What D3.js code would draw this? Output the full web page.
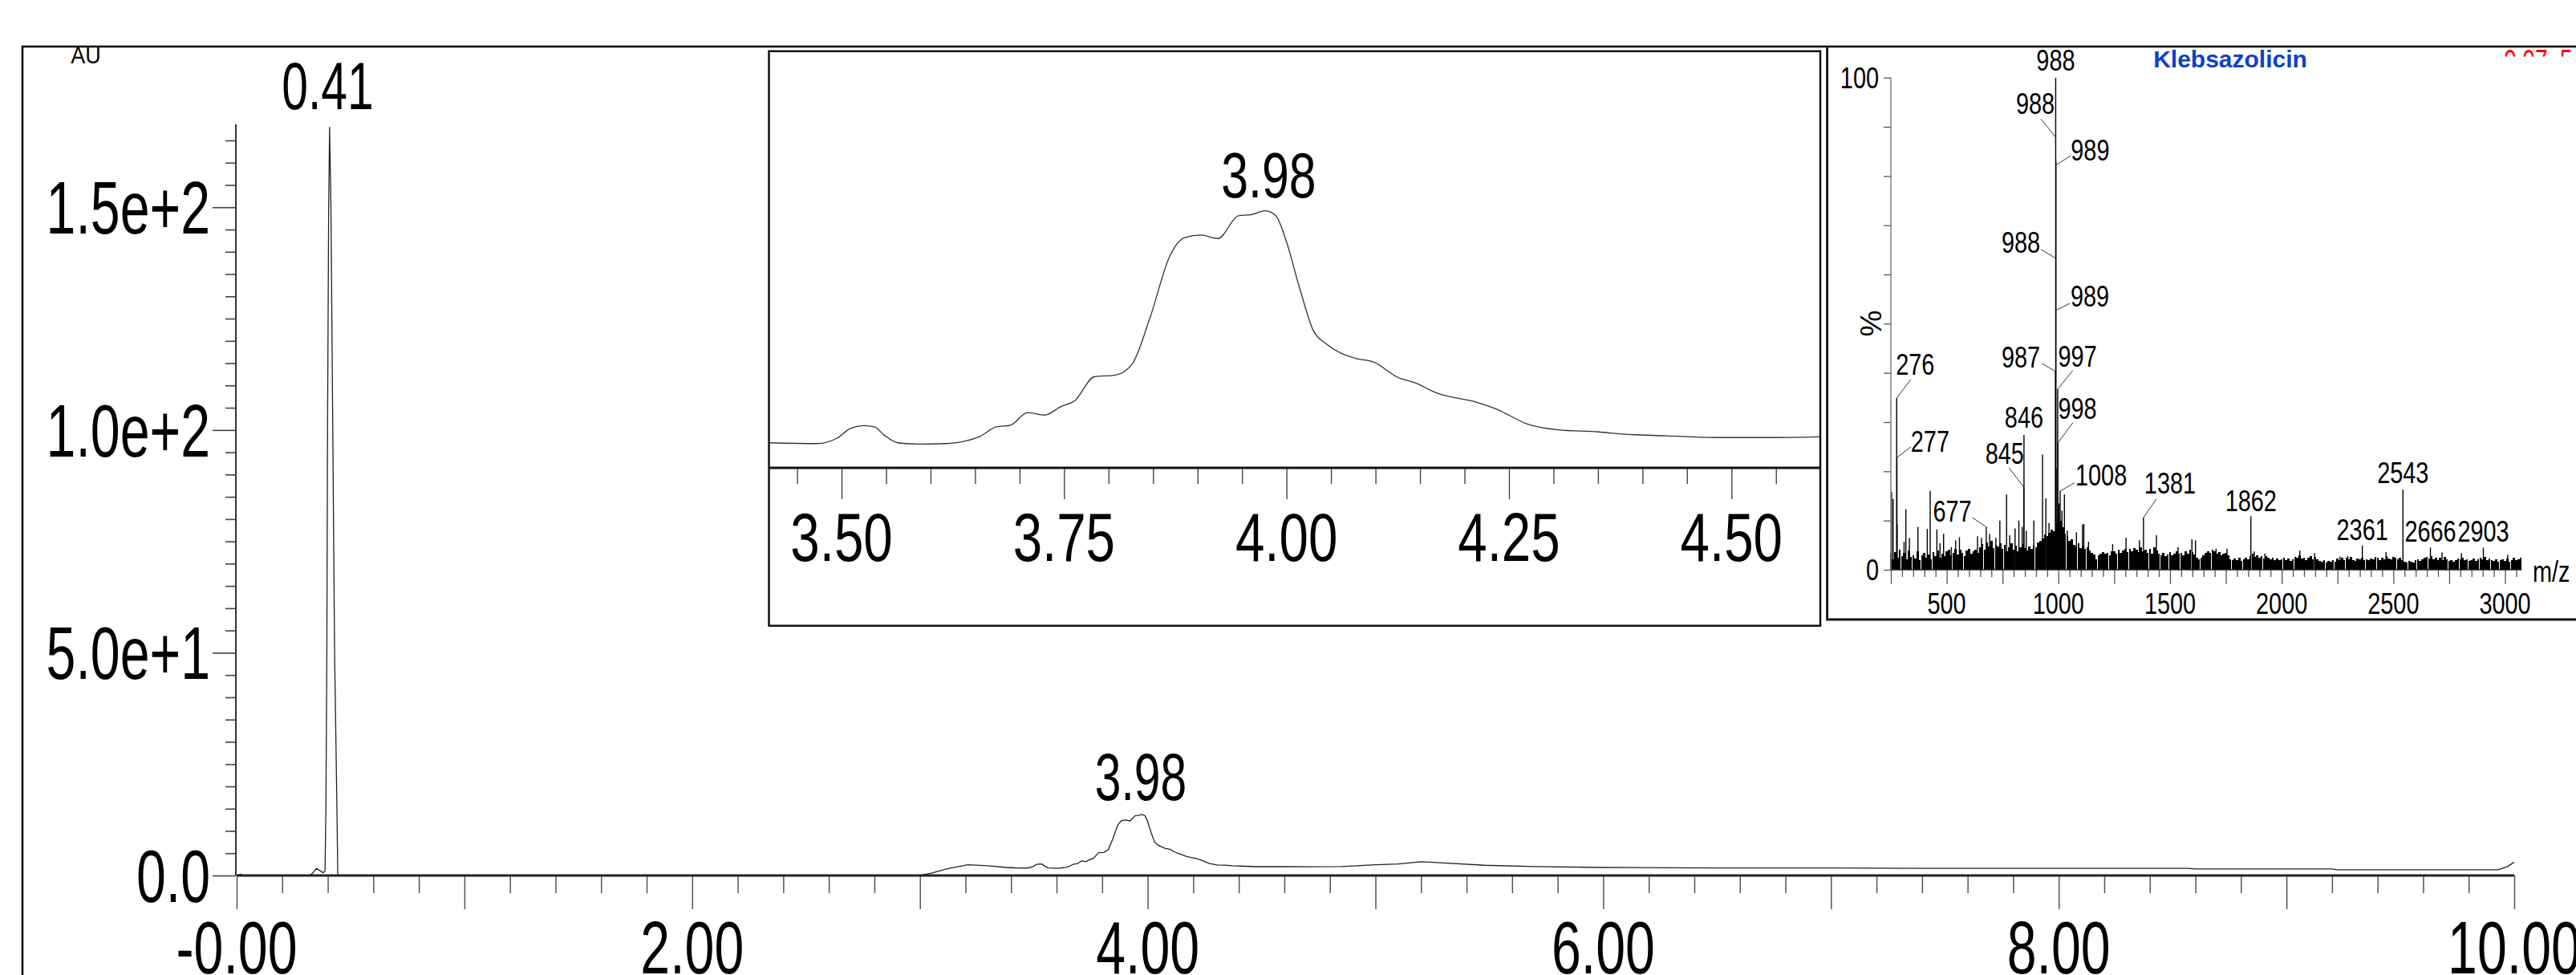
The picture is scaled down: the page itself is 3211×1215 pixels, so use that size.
<!DOCTYPE html>
<html><head><meta charset="utf-8">
<script src="https://cdn.jsdelivr.net/npm/d3@7"></script>
<style>body{margin:0;background:#fff}svg{display:block}text{font-family:"Liberation Sans",Arial,sans-serif}</style>
</head><body><svg id="c" width="3211" height="1215"></svg>
<script>
// ---------------- DATA ----------------
// Main UV chromatogram (time in min, absorbance in AU)
const rtTimes = [0, 0.015, 0.03, 0.32, 0.335, 0.35, 0.365, 0.38, 0.388, 0.392, 0.396, 0.399, 0.404, 0.408, 0.414, 0.422, 0.43, 0.44, 0.444, 3.0, 3.05, 3.12, 3.21, 3.3, 3.38,
  3.419, 3.472, 3.495, 3.51, 3.525, 3.537, 3.548, 3.564, 3.587, 3.617, 3.64, 3.655, 3.674, 3.69, 3.709, 3.728, 3.747, 3.762, 3.784, 3.808, 3.827, 3.847, 3.869, 3.885, 3.904, 3.923, 3.946, 3.96, 3.976, 3.988, 3.999, 4.015, 4.03, 4.045, 4.076, 4.098, 4.125, 4.144, 4.171, 4.213, 4.236, 4.271, 4.305, 4.351, 4.374, 4.427, 4.481, 4.542, 4.599,
  4.7, 4.85, 5.0, 5.1, 5.2, 5.3, 5.48, 5.7, 6.0, 6.5, 7.0, 7.4, 8.57, 8.6, 9.2, 9.22, 9.93, 9.97, 10.0];
const rtAbs = [0, 0.3, 0, 0, 0.6, 1.6, 1.1, 0.6, 1.0, 16, 50, 100, 150, 168, 150, 100, 50, 16, 0, 0, 0.5, 1.5, 2.4, 2.2, 1.8,
  1.71, 1.67, 1.95, 2.45, 2.60, 2.53, 2.10, 1.70, 1.64, 1.67, 1.81, 2.03, 2.53, 2.62, 3.27, 3.14, 3.59, 3.88, 5.12, 5.21, 5.81, 8.23, 11.37, 12.30, 12.44, 12.26, 13.44, 13.49, 13.70, 13.44, 12.23, 9.66, 7.52, 6.81, 6.09, 5.88, 5.09, 4.81, 4.24, 3.81, 3.45, 2.67, 2.38, 2.27, 2.17, 2.07, 1.98, 1.98, 2.02,
  1.95, 2.0, 2.4, 2.6, 3.1, 2.8, 2.3, 2.0, 1.8, 1.7, 1.7, 1.6, 1.6, 1.45, 1.45, 1.3, 1.3, 2.0, 3.0];

const yTickValues = [0, 50, 100, 150];
const yTickLabels = ["0.0", "5.0e+1", "1.0e+2", "1.5e+2"];
const xTickValues = [0, 2, 4, 6, 8, 10];
const xTickLabels = ["-0.00", "2.00", "4.00", "6.00", "8.00", "10.00"];
const peakTimes = [0.41, 3.98];
const peakValues = [168, 13.7];
const peakLabels = ["0.41", "3.98"];

// Inset (zoom of 3.42 - 4.59 min)
const insetTickValues = [3.5, 3.75, 4.0, 4.25, 4.5];
const insetTickLabels = ["3.50", "3.75", "4.00", "4.25", "4.50"];
const insetPeakTime = 3.98, insetPeakValue = 13.7, insetPeakLabel = "3.98";

// Mass spectrum: noise floor every 10 m/z from 250 to 3070 (relative %)
const msNoiseStart = 250, msNoiseStep = 10;
const msNoise = [
  3.2,2.1,3.6,2.4,4.0,2.8,3.4,2.2,3.9,2.6, 3.0,2.3,3.7,2.0,2.9,3.5,2.4,3.1,2.2,3.6,
  2.8,3.9,2.5,3.3,2.7,3.8,4.1,2.9,3.4,4.2, 3.1,4.0,3.5,2.7,3.9,4.3,3.2,3.7,4.0,3.4,
  4.6,5.2,4.1,5.6,4.8,5.9,4.4,5.1,4.7,5.3, 4.2,5.0,3.8,4.6,5.3,4.1,4.9,3.7,4.5,5.2,
  4.4,3.9,4.8,4.2,5.1,4.6,5.5,5.9,6.4,7.2, 6.8,7.5,8.2,7.8,9.5,10.8,9.9,8.6,7.4,6.9,
  5.8,6.2,5.1,4.7,5.4,4.4,4.9,4.2,4.6,3.9, 3.4,3.1,2.2,2.9,3.3,3.6,3.2,3.5,3.0,3.8,
  3.7,3.3,4.0,3.4,3.9,4.2,3.6,4.3,3.8,4.4, 4.1,3.6,4.5,3.7,4.0,3.5,4.2,3.3,4.6,3.9,
  3.2,3.0,3.4,2.8,3.1,3.6,2.9,3.3,3.8,3.2, 3.5,3.0,3.7,3.3,4.0,3.6,3.1,2.5,2.1,2.4,
  3.0,3.4,3.8,3.5,4.1,3.7,3.2,3.6,3.0,3.3, 3.5,3.0,2.2,1.9,2.3,2.0,2.4,1.8,2.1,2.5,
  2.2,2.8,3.2,2.6,2.9,2.4,2.7,2.3,2.8,2.5, 2.1,2.4,2.0,2.3,1.9,2.2,2.5,2.0,2.3,1.8,
  2.2,2.6,2.4,2.9,2.3,2.5,2.0,2.4,2.7,2.2, 2.6,2.1,1.8,1.6,1.9,1.5,1.8,1.6,2.0,1.7,
  2.3,2.0,2.5,1.9,2.4,2.2,2.6,2.0,1.8,2.3, 2.1,2.4,1.9,2.2,2.0,2.3,2.1,2.6,2.4,2.0,
  2.5,2.2,2.7,2.3,2.1,2.6,2.4,2.2,2.5,2.0, 1.6,1.5,1.8,1.7,1.5,1.9,2.1,1.8,2.2,2.4,
  2.6,2.3,2.8,2.2,2.5,2.0,2.4,1.9,2.6,2.2, 1.8,2.0,1.7,1.9,2.3,2.1,2.4,1.9,2.2,1.8,
  2.0,2.3,1.8,2.2,2.5,2.1,2.6,2.0,2.3,1.9, 1.8,2.1,1.6,1.9,2.2,1.8,2.3,1.7,2.0,2.4,
  1.9,2.2,2.5];
// Distinct MS peaks (m/z, relative %)
const msPeakMz = [253,260,276,277,278,309,317,333,371,413,426,456,470,486,521,540,557,638,656,677,692,720,738,768,782,806,823,838,845,846,856,890,929,944,958,987,988,989,990,997,998,1003,1008,1016,1027,1040,1081,1108,1114,1135,1243,1303,1363,1381,1439,1536,1598,1614,1706,1755,1862,1877,1925,2081,2147,2261,2296,2361,2467,2543,2666,2718,2805,2903,3012];
const msPeakInt = [15.8,14.4,34.9,22.8,9.2,5.7,12.3,6.5,8.7,8.3,16.0,8.2,5.4,7.3,4.6,6.0,6.6,6.8,6.5,8.7,7.3,6.5,10.0,15.3,7.0,8.4,10.0,8.7,16.8,27.4,7.9,10.0,23.4,14.5,9.5,40.3,100,83,20.6,36.7,25.8,13.5,16.0,12.0,15.3,8.0,7.6,9.2,9.3,5.7,5.2,6.5,6.0,10.6,7.0,4.6,6.2,6.0,4.3,4.3,10.9,3.7,3.3,3.9,3.4,2.7,2.8,4.9,3.6,16.3,4.5,3.5,3.4,4.5,3.0];
const msXTickLabels = ["500", "1000", "1500", "2000", "2500", "3000"];
const msXTickValues = [500, 1000, 1500, 2000, 2500, 3000];
// MS peak annotations: text, m/z, height on the line (%)
const msLabelText = ["988","988","989","988","989","987","997","276","998","846","277","845","1008","1381","1862","677","2543","2361","2666","2903"];
const msLabelMz   = [988,988,989,988,989,987,997,276,998,846,277,845,1008,1381,1862,677,2543,2361,2666,2903];
const msLabelAt   = [100,87.9,82.2,63.3,52.7,40.3,36.7,34.9,25.8,27.4,22.8,16.8,16.0,10.6,10.9,8.7,16.3,4.9,4.5,4.6];
const msTitle = "Klebsazolicin";

// ---------------- LAYOUT ----------------
// label layout: [anchor, dx, dy, leaderDx, leaderDy]
const msLabelLayout = [
  ["middle",0,-8.7],["end",-1.4,-29,-18.4,-22.7],["start",18.6,-6,18.6,-12],["end",-19.4,-6.7,-18.4,-11],
  ["start",18.3,-5,17.3,-8.7],["end",-19,-5,-17,-10],["start",0.6,-28.3,19,-23.3],["start",-1.1,-29.3,17.6,-23],
  ["start",0.3,-30,18.7,-25],["middle",0,-9],["start",17.3,-7,17.3,-13.3],["end",0.2,-29,-18.5,-24],
  ["start",19,-7,18,-10.2],["start",1,-30,16.2,-23.3],["middle",0,-6.5],["end",-18.2,-6.6,-17.2,-11.6],
  ["middle",0,-8.3],["middle",0,-6.7],["middle",0,-7],["middle",0,-7]];

const svg = d3.select("#c");
svg.append("rect").attr("width",3211).attr("height",1215).attr("fill","#fff");

function label(g, str, x, y, size, sx, anchor, fill, weight) {
  return g.append("text")
    .attr("transform", `translate(${x},${y}) scale(${sx},1)`)
    .attr("text-anchor", anchor).attr("font-size", size)
    .attr("fill", fill || "#000").attr("font-weight", weight || "normal").text(str);
}

// ---------------- MAIN CHART ----------------
const x = d3.scaleLinear().domain([0, 10]).range([295, 3134]);
const y = d3.scaleLinear().domain([0, 168.6]).range([1091, 155]);
const main = svg.append("g");

// y axis
const yAx = main.append("g").attr("transform", "translate(294,0)")
  .call(d3.axisLeft(y).tickValues(d3.range(0, 166, 5)).tickSize(13).tickFormat(""));
yAx.select(".domain").remove();
yAx.selectAll(".tick line").attr("stroke", "#444").attr("stroke-width", 1.6)
  .filter(d => d % 50 === 0).attr("x2", -29);
main.append("line").attr("x1", 294).attr("x2", 294).attr("y1", y.range()[1]).attr("y2", y(0))
  .attr("stroke", "#333").attr("stroke-width", 2);
yTickValues.forEach((v, i) => label(main, yTickLabels[i], 262, y(v) + 33, 92, 0.72, "end"));

// x axis
const xAx = main.append("g").attr("transform", `translate(0,${y(0)})`)
  .call(d3.axisBottom(x).tickValues(d3.range(0, 10.001, 0.2)).tickSize(22).tickFormat(""));
xAx.select(".domain").remove();
xAx.selectAll(".tick line").attr("stroke", "#555").attr("stroke-width", 1.5)
  .filter(d => Math.abs(d - Math.round(d)) < 1e-6).attr("y2", 42);
xTickValues.forEach((v, i) => label(main, xTickLabels[i], x(v), 1213, 92, 0.72, "middle"));

// trace
const rtData = rtTimes.map((t, i) => [t, rtAbs[i]]);
main.append("path").datum(rtData)
  .attr("d", d3.line().x(d => x(d[0])).y(d => y(d[1])))
  .attr("fill", "none").attr("stroke", "#222").attr("stroke-width", 1.3);
main.append("line").attr("x1", x(0)).attr("x2", x(10)).attr("y1", y(0)).attr("y2", y(0))
  .attr("stroke", "#222").attr("stroke-width", 3);

peakTimes.forEach((t, i) => label(main, peakLabels[i], x(t) - 3, y(peakValues[i]) - (i === 0 ? 22 : 18), 84, 0.7, "middle"));
label(main, "AU", 107, 79, 30, 0.9, "middle");

// outer frame
svg.append("path").attr("d", "M28,1215 V58 H3211").attr("fill", "none").attr("stroke", "#000").attr("stroke-width", 2.5);

// ---------------- INSET CHROMATOGRAM ----------------
const ix = d3.scaleLinear().domain([3.4184, 4.5935]).range([958.5, 2262]);
const iy = d3.scaleLinear().domain([0.415, 21.93]).range([583, 64]);
const inset = svg.append("g");
inset.append("rect").attr("x", 958.5).attr("y", 63.8).attr("width", 1310.5).attr("height", 716)
  .attr("fill", "#fff").attr("stroke", "#111").attr("stroke-width", 2.5);
inset.append("clipPath").attr("id", "iclip").append("rect")
  .attr("x", 959).attr("y", 65).attr("width", 1309).attr("height", 518);
const insetData = rtData.filter(d => d[0] >= 3.41 && d[0] <= 4.61);
inset.append("path").datum(insetData).attr("clip-path", "url(#iclip)")
  .attr("d", d3.line().curve(d3.curveMonotoneX).x(d => ix(d[0])).y(d => iy(d[1])))
  .attr("fill", "none").attr("stroke", "#333").attr("stroke-width", 1.3);
const iAx = inset.append("g").attr("transform", "translate(0,583)")
  .call(d3.axisBottom(ix).tickValues(d3.range(3.45, 4.5501, 0.05)).tickSize(20).tickFormat(""));
iAx.select(".domain").remove();
iAx.selectAll(".tick line").attr("stroke", "#444").attr("stroke-width", 1.4)
  .filter(d => Math.abs(d * 4 - Math.round(d * 4)) < 1e-6).attr("y2", 39);
inset.append("line").attr("x1", 958.5).attr("x2", 2268).attr("y1", 583).attr("y2", 583)
  .attr("stroke", "#111").attr("stroke-width", 3);
insetTickValues.forEach((v, i) => label(inset, insetTickLabels[i], ix(v), 699, 85, 0.77, "middle"));
label(inset, insetPeakLabel, ix(insetPeakTime), iy(insetPeakValue) - 16.5, 80, 0.76, "middle");

// ---------------- MASS SPECTRUM INSET ----------------
const mx = d3.scaleLinear().domain([250, 3075]).range([2357, 3143.4]);
const my = d3.scaleLinear().domain([0, 100]).range([710, 96.7]);
const ms = svg.append("g");
ms.append("path").attr("d", "M2277.6,58 V772 H3211").attr("fill", "none").attr("stroke", "#111").attr("stroke-width", 2.8);

const noiseData = msNoise.map((v, i) => [msNoiseStart + i * msNoiseStep, v]);
ms.append("g").attr("shape-rendering", "crispEdges").selectAll("line").data(noiseData).join("line")
  .attr("x1", d => mx(d[0])).attr("x2", d => mx(d[0]))
  .attr("y1", my(0)).attr("y2", d => my(d[1]))
  .attr("stroke", "#000").attr("stroke-width", 2.6);
const peakData = msPeakMz.map((m, i) => [m, msPeakInt[i]]);
ms.append("g").selectAll("line").data(peakData).join("line")
  .attr("x1", d => mx(d[0])).attr("x2", d => mx(d[0]))
  .attr("y1", my(0)).attr("y2", d => my(d[1]))
  .attr("stroke", "#000").attr("stroke-width", 1.4);

// MS axes
const mxAx = ms.append("g").attr("transform", `translate(0,${my(0)})`)
  .call(d3.axisBottom(mx).tickValues(d3.range(250, 3051, 50)).tickSize(9).tickFormat(""));
mxAx.select(".domain").remove();
mxAx.selectAll(".tick line").attr("stroke", "#555").attr("stroke-width", 1.3)
  .filter(d => d % 250 === 0).attr("y2", 18);
ms.append("line").attr("x1", mx(250)).attr("x2", mx(3075)).attr("y1", my(0)).attr("y2", my(0))
  .attr("stroke", "#222").attr("stroke-width", 1.6);
msXTickValues.forEach((v, i) => label(ms, msXTickLabels[i], mx(v), 765, 37, 0.78, "middle"));
label(ms, "m/z", 3157, 725, 37, 0.78, "start");

const myAx = ms.append("g").attr("transform", `translate(${mx(250)},0)`)
  .call(d3.axisLeft(my).tickValues(d3.range(0, 101, 10)).tickSize(9).tickFormat(""));
myAx.select(".domain").remove();
myAx.selectAll(".tick line").attr("stroke", "#555").attr("stroke-width", 1.3);
ms.append("line").attr("x1", mx(250)).attr("x2", mx(250)).attr("y1", my(100)).attr("y2", my(0))
  .attr("stroke", "#777").attr("stroke-width", 1.4);
label(ms, "100", 2342, 110, 37, 0.78, "end");
label(ms, "0", 2342, 723, 37, 0.78, "end");
ms.append("text").attr("transform", "translate(2345,403) rotate(-90)").attr("text-anchor", "middle")
  .attr("font-size", 37).text("%");

// MS annotations
msLabelText.forEach((t, i) => {
  const ax = mx(msLabelMz[i]), ay = my(msLabelAt[i]);
  const L = msLabelLayout[i];
  if (L.length > 3) {
    ms.append("line").attr("x1", ax + L[3]).attr("y1", ay + L[4]).attr("x2", ax).attr("y2", ay)
      .attr("stroke", "#333").attr("stroke-width", 1);
  }
  label(ms, t, ax + L[1], ay + L[2], 37, 0.78, L[0]);
});
label(ms, msTitle, 2780, 84, 30, 1, "middle", "#1040c8", "bold");

// partially hidden red annotation in the corner
svg.append("clipPath").attr("id", "rclip").append("rect").attr("x", 3100).attr("y", 59.5).attr("width", 111).attr("height", 11);
svg.append("g").attr("clip-path", "url(#rclip)").append("text")
  .attr("transform", "translate(3121,90) scale(0.7,1)").attr("font-size", 40).attr("fill", "#ff0000").text("0.07_5");
</script></body></html>
